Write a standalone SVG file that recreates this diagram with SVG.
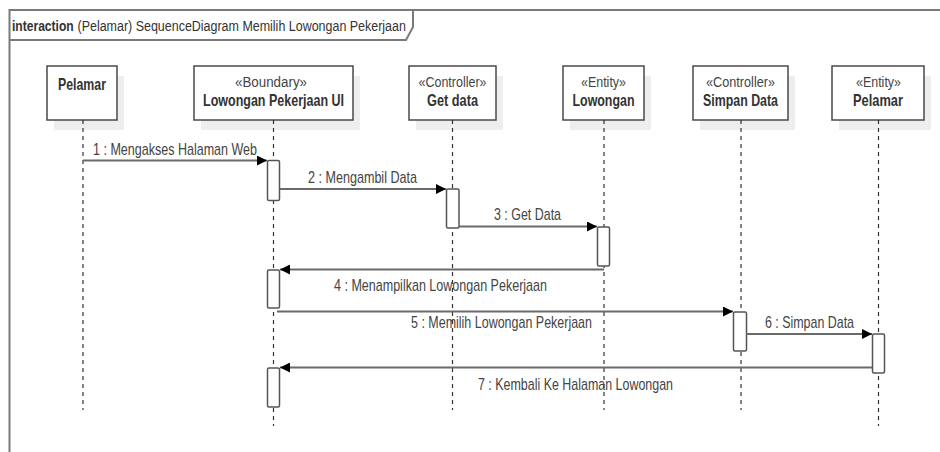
<svg xmlns="http://www.w3.org/2000/svg" width="940" height="452" viewBox="0 0 940 452">
  <style>
    .frame { fill: none; stroke: #7a7a7a; stroke-width: 2; }
    .head { fill: #ffffff; stroke: #4a4a4a; stroke-width: 1.5; }
    .shadow { fill: #eeeeee; stroke: none; }
    .life { stroke: #333333; stroke-width: 1.2; stroke-dasharray: 4 4; fill: none; }
    .act { fill: #ffffff; stroke: #555555; stroke-width: 1.5; }
    .msg { stroke: #6a6a6a; stroke-width: 2; fill: none; }
    .stereo { font-family: "Liberation Sans", Arial, sans-serif; font-size: 15.5px; fill: #444444; text-anchor: middle; }
    .name { font-family: "Liberation Sans", Arial, sans-serif; font-size: 16.5px; font-weight: bold; fill: #333333; text-anchor: middle; }
    .label { font-family: "Liberation Sans", Arial, sans-serif; font-size: 17px; fill: #444444; }
    .title { font-family: "Liberation Sans", Arial, sans-serif; font-size: 15.5px; fill: #333333; }
  </style>
  <defs>
    <marker id="arrow" viewBox="0 0 10 10" refX="10" refY="5" markerWidth="10" markerHeight="10" markerUnits="userSpaceOnUse" orient="auto">
      <path d="M0,0 L10,5 L0,10 Z" fill="#000000"/>
    </marker>
  </defs>

  <rect width="940" height="452" fill="#ffffff"/>

  <!-- interaction frame with its name tab -->
  <g id="frame">
    <path class="frame" d="M9.5,452 L9.5,10 L940,10"/>
    <path class="frame" d="M9.5,40 L406,40 L413,27 L413,10"/>
    <!-- narrow title lettering: horizontally squeezed -->
    <g transform="translate(12,31) scale(0.78,1)">
      <text class="title" x="0" y="0" font-weight="bold">interaction</text>
      <text class="title" x="84" y="0" textLength="421" lengthAdjust="spacingAndGlyphs">(Pelamar) SequenceDiagram Memilih Lowongan Pekerjaan</text>
    </g>
  </g>

  <!-- lifelines -->
  <g id="actor-pelamar">
    <rect class="shadow" x="54" y="76" width="70" height="54"/>
    <rect class="head" x="47" y="66" width="70" height="54"/>
    <line class="life" x1="83" y1="120" x2="83" y2="410"/>
    <text class="name" x="82" y="90" textLength="48" lengthAdjust="spacingAndGlyphs">Pelamar</text>
  </g>

  <g id="boundary-ui">
    <rect class="shadow" x="201" y="76" width="159" height="54"/>
    <rect class="head" x="194" y="66" width="159" height="54"/>
    <line class="life" x1="273.5" y1="120" x2="273.5" y2="426"/>
    <text class="stereo" x="271" y="87" textLength="72" lengthAdjust="spacingAndGlyphs">«Boundary»</text>
    <text class="name" x="273.5" y="106" textLength="141" lengthAdjust="spacingAndGlyphs">Lowongan Pekerjaan UI</text>
  </g>

  <g id="controller-getdata">
    <rect class="shadow" x="416" y="76" width="87" height="54"/>
    <rect class="head" x="409" y="66" width="87" height="54"/>
    <line class="life" x1="452.5" y1="120" x2="452.5" y2="410"/>
    <text class="stereo" x="452.5" y="87" textLength="68" lengthAdjust="spacingAndGlyphs">«Controller»</text>
    <text class="name" x="452.5" y="106" textLength="51" lengthAdjust="spacingAndGlyphs">Get data</text>
  </g>

  <g id="entity-lowongan">
    <rect class="shadow" x="570" y="76" width="81" height="54"/>
    <rect class="head" x="563" y="66" width="81" height="54"/>
    <line class="life" x1="604" y1="120" x2="604" y2="410"/>
    <text class="stereo" x="603.5" y="87" textLength="45" lengthAdjust="spacingAndGlyphs">«Entity»</text>
    <text class="name" x="603.5" y="106" textLength="62" lengthAdjust="spacingAndGlyphs">Lowongan</text>
  </g>

  <g id="controller-simpandata">
    <rect class="shadow" x="700" y="76" width="95" height="54"/>
    <rect class="head" x="693" y="66" width="95" height="54"/>
    <line class="life" x1="741" y1="120" x2="741" y2="410"/>
    <text class="stereo" x="740.5" y="87" textLength="69" lengthAdjust="spacingAndGlyphs">«Controller»</text>
    <text class="name" x="740.5" y="106" textLength="75" lengthAdjust="spacingAndGlyphs">Simpan Data</text>
  </g>

  <g id="entity-pelamar">
    <rect class="shadow" x="839" y="76" width="92" height="54"/>
    <rect class="head" x="832" y="66" width="92" height="54"/>
    <line class="life" x1="878.5" y1="120" x2="878.5" y2="426"/>
    <text class="stereo" x="878.5" y="87" textLength="45" lengthAdjust="spacingAndGlyphs">«Entity»</text>
    <text class="name" x="878" y="106" textLength="50" lengthAdjust="spacingAndGlyphs">Pelamar</text>
  </g>

  <!-- activation bars -->
  <g id="activations">
    <rect class="act" x="267.5" y="160.5" width="12" height="40" rx="1.5"/>
    <rect class="act" x="446.5" y="189" width="12.5" height="39" rx="1.5"/>
    <rect class="act" x="597.5" y="227" width="12" height="39" rx="1.5"/>
    <rect class="act" x="267.5" y="270" width="12" height="38" rx="1.5"/>
    <rect class="act" x="733.5" y="312" width="13" height="39" rx="1.5"/>
    <rect class="act" x="872.5" y="334" width="12" height="39" rx="1.5"/>
    <rect class="act" x="267.5" y="368" width="12" height="39" rx="1.5"/>
  </g>

  <!-- messages -->
  <g id="connectors">
    <line class="msg" x1="83" y1="160.5" x2="267" y2="160.5" marker-end="url(#arrow)"/>
    <line class="msg" x1="279.5" y1="189" x2="446" y2="189" marker-end="url(#arrow)"/>
    <line class="msg" x1="459" y1="226.5" x2="597" y2="226.5" marker-end="url(#arrow)"/>
    <line class="msg" x1="604" y1="269.5" x2="280" y2="269.5" marker-end="url(#arrow)"/>
    <line class="msg" x1="277" y1="311.5" x2="733" y2="311.5" marker-end="url(#arrow)"/>
    <line class="msg" x1="746.5" y1="334" x2="872" y2="334" marker-end="url(#arrow)"/>
    <line class="msg" x1="872" y1="367.5" x2="280" y2="367.5" marker-end="url(#arrow)"/>

    <text class="label" x="93" y="155" textLength="164" lengthAdjust="spacingAndGlyphs">1 : Mengakses Halaman Web</text>
    <text class="label" x="308" y="183" textLength="109" lengthAdjust="spacingAndGlyphs">2 : Mengambil Data</text>
    <text class="label" x="494" y="220" textLength="67" lengthAdjust="spacingAndGlyphs">3 : Get Data</text>
    <text class="label" x="334" y="291" textLength="213" lengthAdjust="spacingAndGlyphs">4 : Menampilkan Lowongan Pekerjaan</text>
    <text class="label" x="411" y="328" textLength="181" lengthAdjust="spacingAndGlyphs">5 : Memilih Lowongan Pekerjaan</text>
    <text class="label" x="765" y="328" textLength="89" lengthAdjust="spacingAndGlyphs">6 : Simpan Data</text>
    <text class="label" x="478" y="390" textLength="195" lengthAdjust="spacingAndGlyphs">7 : Kembali Ke Halaman Lowongan</text>
  </g>
</svg>
